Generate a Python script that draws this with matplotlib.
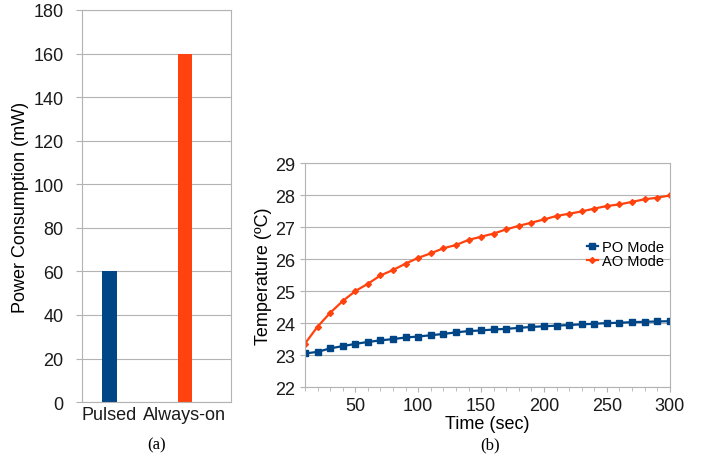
import matplotlib
matplotlib.use("Agg")
import matplotlib.pyplot as plt
import numpy as np

plt.rcParams['font.family'] = ['Liberation Sans', 'DejaVu Sans']

# (a) power consumption
modes = ['Pulsed', 'Always-on']
power = [60, 160]

# (b) temperature over time
time_s = [10, 20, 30, 40, 50, 60, 70, 80, 90, 100,
          110, 120, 130, 140, 150, 160, 170, 180, 190, 200,
          210, 220, 230, 240, 250, 260, 270, 280, 290, 300]
po_temp = [23.05, 23.10, 23.21, 23.28, 23.35, 23.41, 23.46, 23.50, 23.55, 23.58,
           23.62, 23.66, 23.71, 23.75, 23.77, 23.80, 23.82, 23.85, 23.88, 23.90,
           23.92, 23.94, 23.96, 23.98, 24.00, 24.01, 24.03, 24.04, 24.05, 24.06]
ao_temp = [23.36, 23.89, 24.32, 24.69, 25.00, 25.23, 25.49, 25.66, 25.86, 26.04,
           26.18, 26.34, 26.44, 26.60, 26.70, 26.80, 26.93, 27.04, 27.14, 27.24,
           27.35, 27.42, 27.49, 27.58, 27.66, 27.71, 27.79, 27.87, 27.92, 27.99]

blue = '#004586'
orange = '#ff420e'
grid_c = '#b3b3b3'
fs = 13

fig = plt.figure(figsize=(7.11, 4.56), dpi=100)


def style_axes(ax):
    for s in ax.spines.values():
        s.set_color(grid_c)
        s.set_linewidth(0.8)
    ax.tick_params(which='both', color=grid_c, direction='out', labelsize=fs, labelcolor='#1a1a1a')
    ax.grid(axis='y', color=grid_c, linewidth=0.8)
    ax.set_axisbelow(True)


# left panel
ax1 = fig.add_axes([0.115, 0.116, 0.2096, 0.860])
ax1.bar(range(len(modes)), power, width=0.19, color=[blue, orange])
ax1.set_xlim(-0.37, 1.61)
ax1.set_ylim(0, 180)
ax1.set_yticks(np.arange(0, 181, 20))
ax1.set_xticks(range(len(modes)))
ax1.set_xticklabels(modes)
style_axes(ax1)
ax1.tick_params(axis='x', length=0, pad=3)
ax1.tick_params(axis='y', length=4, pad=9)
ax1.set_ylabel('Power Consumption (mW)', fontsize=fs, labelpad=3)
fig.text(157 / 711, 1 - 445 / 456, '(a)', family='Liberation Serif', fontsize=12, ha='center', va='center')

# right panel
ax2 = fig.add_axes([0.429, 0.149, 0.513, 0.491])
ax2.plot(time_s, po_temp, color=blue, lw=1.6, marker='s', ms=4, label='PO Mode')
ax2.plot(time_s, ao_temp, color=orange, lw=1.6, marker='D', ms=3, label='AO Mode')
ax2.set_xlim(10, 300)
ax2.set_ylim(22, 29)
ax2.set_xticks(np.arange(50, 301, 50))
ax2.set_xticks(time_s, minor=True)
ax2.set_yticks(np.arange(22, 30, 1))
style_axes(ax2)
ax2.tick_params(which='minor', length=3)
ax2.set_xlabel('Time (sec)', fontsize=fs, labelpad=1)
ax2.set_ylabel('Temperature (ºC)', fontsize=fs, labelpad=2)
ax2.legend(loc='center right', bbox_to_anchor=(1.0, 0.595), frameon=False, fontsize=10.5,
           handlelength=0.7, handletextpad=0.3, labelspacing=0.0, borderaxespad=0.0)
fig.text(490 / 711, 1 - 445 / 456, '(b)', family='Liberation Serif', fontsize=12, ha='center', va='center')

fig.savefig('out.png', dpi=100)
